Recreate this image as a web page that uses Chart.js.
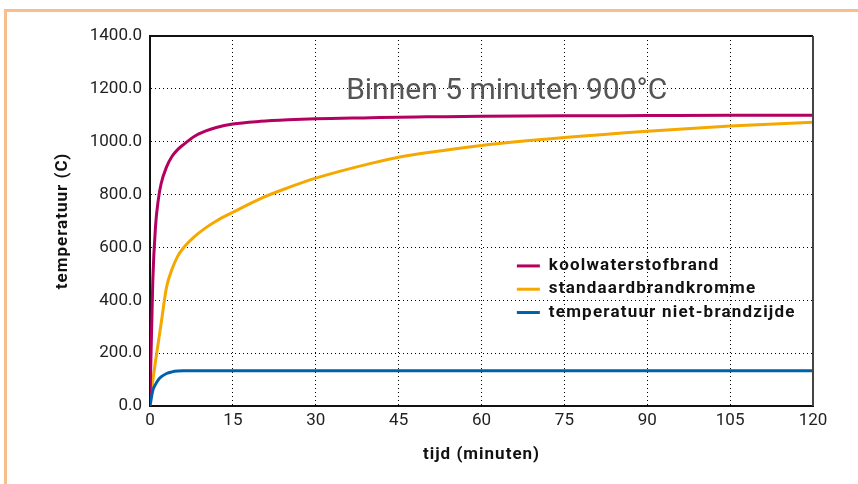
<!DOCTYPE html>
<html>
<head>
<meta charset="utf-8">
<title>Temperatuurkrommen</title>
<script src="https://cdn.jsdelivr.net/npm/chart.js@4.4.0/dist/chart.umd.min.js"></script>
<style>
    html, body { margin: 0; padding: 0; background: #fff; overflow: hidden; }
    .frame {
        position: absolute; left: 4px; top: 9px; width: 900px; height: 520px;
        border-left: 3px solid #f7bd8b; border-top: 3px solid #f7bd8b;
    }
    .wrap { position: absolute; left: 0; top: 0; width: 858px; height: 484px; }
</style>
</head>
<body>
<div class="frame"></div>
<div class="wrap"><canvas id="chart" width="858" height="484"></canvas></div>
<script>
// tijd in minuten
const tijd = [0, 0.5, 1, 1.5, 2, 3, 4, 5, 6, 8, 10, 12, 15, 20, 25, 30, 40, 45, 50, 60, 75, 90, 105, 120];

// temperaturen (C)
const koolwaterstofbrand = [20, 470, 680, 780, 840, 905, 945, 970, 988, 1020, 1040, 1054, 1067, 1077, 1083, 1087, 1091, 1093, 1094, 1096, 1098, 1099, 1100, 1100];
const standaardbrandkromme = [20, 95, 170, 240, 310, 450, 518, 566, 597, 640, 673, 700, 733, 785, 826, 862, 918, 941, 958, 986, 1016, 1040, 1059, 1074];
const nietBrandzijde = [0, 58, 82, 99, 110, 123, 129, 132, 133, 133, 133, 133, 133, 133, 133, 133, 133, 133, 133, 133, 133, 133, 133, 133];

const reeksNamen = ['koolwaterstofbrand', 'standaardbrandkromme', 'temperatuur niet-brandzijde'];
const reeksKleuren = ['#b4005f', '#f5a800', '#0061ab'];

const xTicks = [0, 15, 30, 45, 60, 75, 90, 105, 120];
const yTicks = [0, 200, 400, 600, 800, 1000, 1200, 1400];

const annotatie = { tekst: 'Binnen 5 minuten 900°C', x: 35.5, y: 1160 };
const legendaAnker = { x: 66.4, y: 530 };

const toPoints = (values) => values.map((v, i) => ({ x: tijd[i], y: v }));

// wider letter spacing on axis titles (DIN-like look)
const spacedTitle = (scale) => {
    if (scale._spacedTitle || typeof scale.drawTitle !== 'function') return;
    const orig = scale.drawTitle;
    scale.drawTitle = function (...args) {
        this.ctx.save();
        this.ctx.letterSpacing = '1px';
        orig.apply(this, args);
        this.ctx.restore();
    };
    scale._spacedTitle = true;
};

const kaderPlugin = {
    id: 'kader',
    afterDatasetsDraw(chart) {
        const { ctx, chartArea: a, scales: { x, y } } = chart;
        ctx.save();
        // top and right edge of the plot
        ctx.lineWidth = 2;
        ctx.strokeStyle = '#111';
        ctx.beginPath();
        ctx.moveTo(a.left, a.top);
        ctx.lineTo(a.right, a.top);
        ctx.stroke();
        ctx.strokeStyle = '#444';
        ctx.beginPath();
        ctx.moveTo(a.right, a.top);
        ctx.lineTo(a.right, a.bottom);
        ctx.stroke();

        // annotation
        ctx.font = '30px Roboto';
        ctx.fillStyle = '#555';
        ctx.textAlign = 'left';
        ctx.textBaseline = 'alphabetic';
        ctx.fillText(annotatie.tekst, x.getPixelForValue(annotatie.x), y.getPixelForValue(annotatie.y));

        // legend inside the plot
        const lx = x.getPixelForValue(legendaAnker.x);
        let ly = y.getPixelForValue(legendaAnker.y);
        ctx.font = 'bold 17px Roboto';
        ctx.letterSpacing = '1.2px';
        ctx.textBaseline = 'middle';
        reeksNamen.forEach((naam, i) => {
            ctx.strokeStyle = reeksKleuren[i];
            ctx.lineWidth = 3;
            ctx.beginPath();
            ctx.moveTo(lx, ly);
            ctx.lineTo(lx + 23, ly);
            ctx.stroke();
            ctx.fillStyle = '#111';
            ctx.fillText(naam, lx + 32, ly);
            ly += 23.3;
        });
        ctx.restore();
    }
};

const ctx = document.getElementById('chart');
new Chart(ctx, {
    type: 'line',
    data: {
        datasets: [
            { label: reeksNamen[0], data: toPoints(koolwaterstofbrand), borderColor: reeksKleuren[0], order: 1 },
            { label: reeksNamen[1], data: toPoints(standaardbrandkromme), borderColor: reeksKleuren[1], order: 2 },
            { label: reeksNamen[2], data: toPoints(nietBrandzijde), borderColor: reeksKleuren[2], order: 0 }
        ]
    },
    options: {
        responsive: false,
        animation: false,
        devicePixelRatio: 1,
        layout: { padding: { left: 49, top: 36, right: 45, bottom: 19 } },
        elements: {
            point: { radius: 0 },
            line: { borderWidth: 3, cubicInterpolationMode: 'monotone', fill: false }
        },
        plugins: {
            legend: { display: false },
            tooltip: { enabled: false }
        },
        scales: {
            x: {
                type: 'linear',
                min: 0,
                max: 120,
                afterBuildTicks: (scale) => { scale.ticks = xTicks.map(v => ({ value: v })); },
                afterFit: (scale) => { scale.height = 59; spacedTitle(scale); },
                ticks: { color: '#222', padding: 5, font: { family: 'Roboto', size: 17 } },
                grid: {
                    drawTicks: false,
                    color: (c) => (c.tick && (c.tick.value === 0 || c.tick.value === 120)) ? 'rgba(0,0,0,0)' : '#000'
                },
                border: { display: true, color: '#111', width: 2, dash: [1, 3] },
                title: {
                    display: true,
                    text: 'tijd (minuten)',
                    color: '#111',
                    padding: { top: 0, bottom: 0 },
                    font: { family: 'Roboto', size: 17, weight: 'bold' }
                }
            },
            y: {
                min: 0,
                max: 1400,
                afterBuildTicks: (scale) => { scale.ticks = yTicks.map(v => ({ value: v })); },
                afterFit: (scale) => { scale.width = 101; spacedTitle(scale); },
                ticks: {
                    color: '#222',
                    padding: 8,
                    font: { family: 'Roboto', size: 17 },
                    callback: (v) => v.toFixed(1)
                },
                grid: {
                    drawTicks: false,
                    color: (c) => (c.tick && (c.tick.value === 0 || c.tick.value === 1400)) ? 'rgba(0,0,0,0)' : '#000'
                },
                border: { display: true, color: '#111', width: 2, dash: [1, 3] },
                title: {
                    display: true,
                    text: 'temperatuur (C)',
                    color: '#111',
                    padding: { top: 4, bottom: 0 },
                    font: { family: 'Roboto', size: 17, weight: 'bold' }
                }
            }
        }
    },
    plugins: [kaderPlugin]
});
</script>
</body>
</html>
